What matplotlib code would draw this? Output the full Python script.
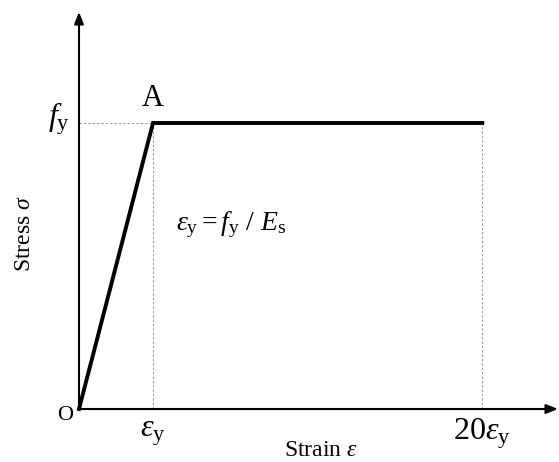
import matplotlib.pyplot as plt

plt.rcParams.update({
    'font.family': 'Liberation Serif',
    'mathtext.fontset': 'custom',
    'mathtext.rm': 'Liberation Serif',
    'mathtext.it': 'Liberation Serif:italic',
})

# schematic elastic-perfectly-plastic curve (strain in units of eps_y, stress in units of f_y)
strain = [0.0, 1.0, 5.45]
stress = [0.0, 1.0, 1.0]
x_ticks = [1.0, 5.45]
x_tick_labels = [r'$\varepsilon_{\rm y}$', r'$20\varepsilon_{\rm y}$']
y_ticks = [1.0]
y_tick_labels = [r'$f_{\rm y}$']

W, H = 559, 462
X0, Y0 = 79, 409          # origin in pixels
SX, SY = 74.0, 286.0      # pixels per unit

fig = plt.figure(figsize=(W / 100, H / 100), dpi=100)
ax = fig.add_axes([0, 0, 1, 1])
ax.set_xlim(-X0 / SX, (W - X0) / SX)
ax.set_ylim(-(H - Y0) / SY, Y0 / SY)
ax.axis('off')

# axes with arrow heads
arrow = dict(arrowstyle='-|>,head_length=0.7,head_width=0.28', color='black',
             lw=1.5, shrinkA=0, shrinkB=0)
ax.annotate('', xy=((558 - X0) / SX, 0), xytext=(0, 0), arrowprops=arrow)
ax.annotate('', xy=(0, (Y0 - 12) / SY), xytext=(0, 0), arrowprops=arrow)

# guide lines
dash = dict(color='#999999', lw=0.7, ls=(0, (2.5, 2)))
ax.plot([0, strain[1]], [stress[1], stress[1]], **dash)
ax.plot([strain[1], strain[1]], [0, stress[1]], **dash)
ax.plot([strain[2], strain[2]], [0, stress[2]], **dash)

ax.plot(strain, stress, color='black', lw=2.8, solid_joinstyle='miter', zorder=3)

for x, lab in zip(x_ticks, x_tick_labels):
    ax.text(x, -0.085, lab, ha='center', va='center', fontsize=23)
for y, lab in zip(y_ticks, y_tick_labels):
    ax.text(-0.12, y + 0.015, lab, ha='right', va='center', fontsize=23)

ax.text(-0.08, -0.022, 'O', ha='right', va='center', fontsize=16)
ax.text(strain[1], stress[1] + 0.035, 'A', ha='center', va='bottom', fontsize=22)
ax.text((321 - X0) / SX, -(451 - Y0) / SY, r'Strain $\varepsilon$',
        ha='center', va='center', fontsize=17)
ax.text(-(X0 - 24) / SX, (Y0 - 234) / SY, r'Stress $\sigma$', rotation=90,
        ha='center', va='center', fontsize=17)
ax.text((176 - X0) / SX, (Y0 - 225) / SY,
        r'$\varepsilon_{\rm y} = f_{\rm y}\ /\ E_{\rm s}$',
        ha='left', va='center', fontsize=20)

fig.savefig('out.png', dpi=100)
